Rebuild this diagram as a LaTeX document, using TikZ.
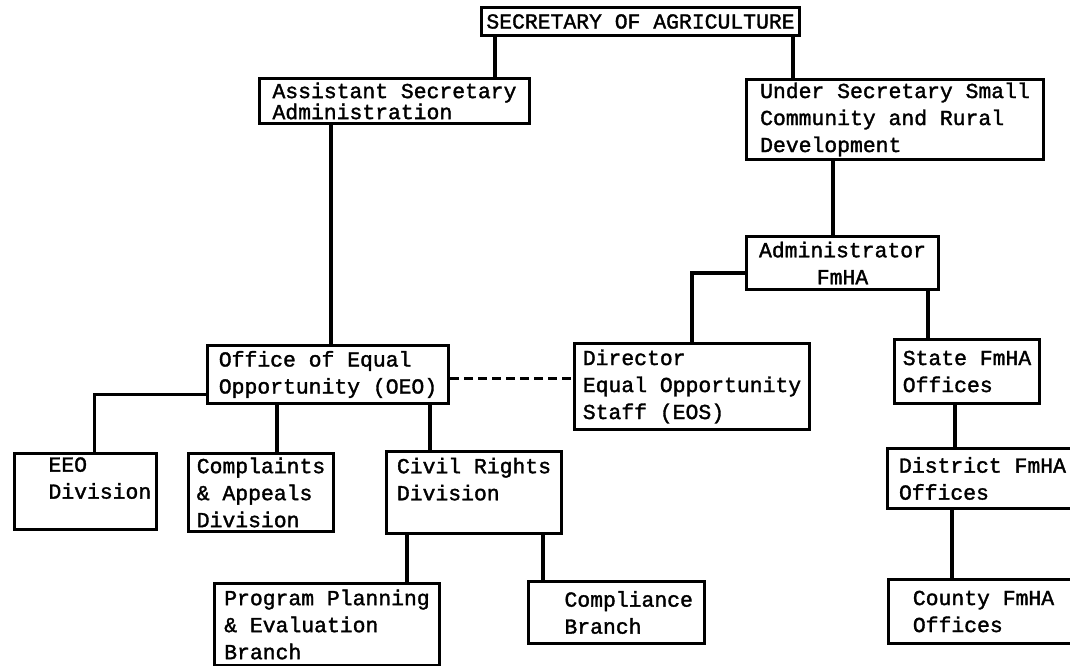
\documentclass[tikz,border=0pt]{standalone}
\usepackage{fontspec}
\newfontfamily\typewriter[FakeBold=1.6]{Liberation Mono}
\usetikzlibrary{calc,positioning}

\tikzset{
  unit/.style={draw, line width=3pt, anchor=north west, align=left,
    inner ysep=0pt, inner xsep=0pt,
    font=\typewriter\fontsize{21.4}{27}\selectfont},
  link/.style={line width=3.2pt},
  dotlink/.style={line width=3.2pt, dash pattern=on 9pt off 5pt}
}

\begin{document}
\begin{tikzpicture}[x=1pt,y=-1pt]
        \useasboundingbox (0,0) rectangle (1070,666);
        % top of the chart
        \node[unit, minimum width=318pt, minimum height=28pt] (sec) at (480,6) {SECRETARY OF AGRICULTURE};
        \node[unit, minimum width=270pt, minimum height=45pt] (asst) at (258,77) {Assistant Secretary\\[-6pt]Administration};
        \node[unit, minimum width=297pt, minimum height=80pt] (under) at (745,78) {Under Secretary Small\\Community and Rural\\Development};
        % FmHA side
        \node[unit, align=center, minimum width=192pt, minimum height=53pt] (admin) at (745,235) {Administrator\\FmHA};
        \node[unit, minimum width=235pt, minimum height=86pt] (director) at (573,342) {Director\\Equal Opportunity\\Staff (EOS)};
        \node[unit, minimum width=145pt, minimum height=64pt] (state) at (893,338) {State FmHA\\Offices};
        \node[unit, minimum width=190pt, minimum height=60pt] (district) at (886,447) {District FmHA\\Offices};
        \node[unit, minimum width=190pt, minimum height=64pt] (county) at (887,578) {County FmHA\\Offices};
        % OEO side
        \node[unit, minimum width=241pt, minimum height=58pt] (oeo) at (206,344) {Office of Equal\\Opportunity (OEO)};
        \node[unit, text width=74pt, inner xsep=34pt, minimum height=76pt] (eeo) at (13,452) {EEO\\Division\\\mbox{}};
        \node[unit, minimum width=145pt, minimum height=78pt] (complaints) at (187,452) {Complaints\\\& Appeals\\Division};
        \node[unit, minimum width=175pt, minimum height=82pt] (civil) at (385,450) {Civil Rights\\Division\\\mbox{}};
        \node[unit, minimum width=225pt, minimum height=82pt] (program) at (213,582) {Program Planning\\\& Evaluation\\Branch};
        \node[unit, text width=104pt, inner xsep=36pt, minimum height=62pt] (compliance) at (527,580) {Compliance\\Branch};

        \draw[link] ([xshift=15pt]sec.south west) -- ([xshift=15pt]sec.south west |- asst.north);
        \draw[link] ([xshift=-8pt]sec.south east) -- ([xshift=-8pt]sec.south east |- under.north);
        \draw[link] ([xshift=73pt]asst.south west) -- ([xshift=73pt]asst.south west |- oeo.north);
        \draw[link] ([xshift=88pt]under.south west) -- ([xshift=88pt]under.south west |- admin.north);
        \draw[link] ([yshift=-10pt]admin.west) -| (director.north);
        \draw[link] ([xshift=-12pt]admin.south east) -- ([xshift=-12pt]admin.south east |- state.north);
        \draw[link] ([xshift=62pt]state.south west) -- ([xshift=62pt]state.south west |- district.north);
        \draw[link] ([xshift=66pt]district.south west) -- ([xshift=66pt]district.south west |- county.north);
        \draw[dotlink] ([yshift=-4pt]oeo.east) -- ([yshift=-4pt]oeo.east -| director.west);
        \draw[link] ([yshift=-20pt]oeo.west) -| ([xshift=9pt]eeo.north);
        \draw[link] ([xshift=71pt]oeo.south west) -- ([xshift=71pt]oeo.south west |- complaints.north);
        \draw[link] ([xshift=224pt]oeo.south west) -- ([xshift=224pt]oeo.south west |- civil.north);
        \draw[link] ([xshift=22pt]civil.south west) -- ([xshift=22pt]civil.south west |- program.north);
        \draw[link] ([xshift=158pt]civil.south west) -- ([xshift=158pt]civil.south west |- compliance.north);
\end{tikzpicture}
\end{document}
